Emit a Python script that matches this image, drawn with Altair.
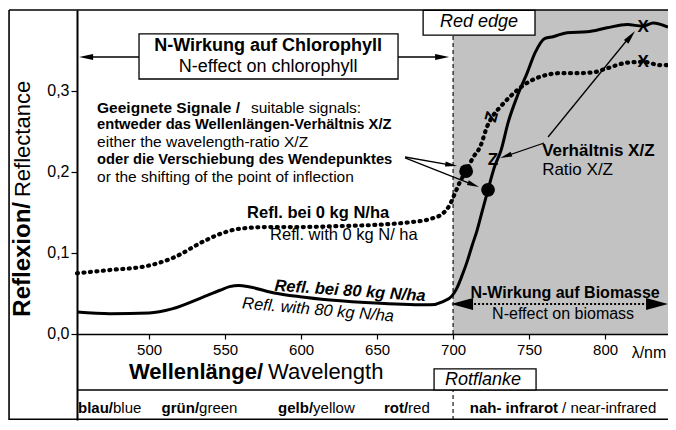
import altair as alt
import pandas as pd

FONT = "Liberation Sans"

# ---------------- values ----------------
wl_0kg = [452.6, 474.3, 498.7, 515.8, 535.5, 544.7, 559.9, 577.6, 599.3, 621.1, 652.0, 671.7,
          684.9, 693.4, 698.0, 701.3, 704.6, 708.6, 713.2, 717.8, 722.4, 725.7, 730.9, 737.5,
          744.1, 752.6, 761.8, 770.4, 781.6, 792.1, 801.3, 814.5, 825.0, 836.2, 841.4]
refl_0kg = [0.075, 0.079, 0.084, 0.094, 0.114, 0.122, 0.130, 0.132, 0.132, 0.133, 0.135, 0.138,
            0.142, 0.149, 0.160, 0.174, 0.188, 0.201, 0.218, 0.231, 0.256, 0.268, 0.280, 0.293,
            0.304, 0.314, 0.320, 0.322, 0.322, 0.323, 0.328, 0.335, 0.336, 0.332, 0.332]

wl_80kg = [452.6, 474.3, 500.0, 515.1, 533.6, 546.7, 553.0, 559.0, 566.4, 581.6, 599.3, 619.1,
           652.0, 684.9, 693.4, 699.3, 702.6, 705.9, 709.2, 712.5, 715.8, 719.1, 723.0, 727.0,
           731.6, 736.2, 742.1, 748.7, 753.9, 760.5, 765.8, 775.0, 788.2, 801.3, 814.5, 825.0,
           831.6, 841.4]
refl_80kg = [0.027, 0.025, 0.026, 0.031, 0.044, 0.054, 0.0585, 0.0600, 0.058, 0.051, 0.046, 0.042,
             0.038, 0.036, 0.040, 0.047, 0.057, 0.072, 0.089, 0.109, 0.128, 0.151, 0.178, 0.205,
             0.227, 0.261, 0.293, 0.322, 0.347, 0.365, 0.367, 0.372, 0.373, 0.378, 0.382, 0.380,
             0.384, 0.379]

inflection_wl = [708.6, 723.0]
inflection_refl = [0.201, 0.178]

x_ticks = [500, 550, 600, 650, 700, 750, 800]
y_ticks = [0.0, 0.1, 0.2, 0.3]

X_DOMAIN = [452.6, 841.4]
Y_DOMAIN = [-0.1062, 0.4]
RED_EDGE_START = 700

# ---------------- scales / axes ----------------
xs = alt.Scale(domain=X_DOMAIN, nice=False, zero=False)
ys = alt.Scale(domain=Y_DOMAIN, nice=False, zero=False)
x_axis = alt.Axis(values=x_ticks, offset=-86, title=None, grid=False, tickSize=5,
                  labelFontSize=15, labelPadding=3, domainWidth=1.5, tickWidth=1.2,
                  zindex=1, labelFont=FONT, labelColor="black", domainColor="black",
                  tickColor="black")
y_axis = alt.Axis(values=y_ticks, title=None, grid=False, tickSize=6, labelFontSize=16,
                  labelPadding=2, domainWidth=2, tickWidth=1.2, zindex=1, labelFont=FONT,
                  labelColor="black", domainColor="black", tickColor="black",
                  labelExpr="replace(format(datum.value, '.1f'), '.', ',')")


def X(f):
    return alt.X(f"{f}:Q", scale=xs, axis=x_axis)


def Y(f):
    return alt.Y(f"{f}:Q", scale=ys, axis=y_axis)


def text_layer(rows, size, weight="normal", style="normal", align="center",
               baseline="middle", angle=0):
    df = pd.DataFrame(rows, columns=["label", "x", "y"])
    kw = dict(font=FONT, fontSize=size, fontWeight=weight, fontStyle=style,
              align=align, baseline=baseline, color="black")
    if angle:
        kw["angle"] = angle
    return alt.Chart(df).mark_text(**kw).encode(x=X("x"), y=Y("y"), text="label:N")


def hrules(rows, width=1.5, dash=None):
    df = pd.DataFrame(rows, columns=["x", "x2", "y"])
    kw = dict(color="black", strokeWidth=width)
    if dash:
        kw["strokeDash"] = dash
    return alt.Chart(df).mark_rule(**kw).encode(x=X("x"), x2="x2:Q", y=Y("y"))


def vrules(rows, width=1.5, dash=None):
    df = pd.DataFrame(rows, columns=["x", "y", "y2"])
    kw = dict(color="black", strokeWidth=width)
    if dash:
        kw["strokeDash"] = dash
    return alt.Chart(df).mark_rule(**kw).encode(x=X("x"), y=Y("y"), y2="y2:Q")


def segs(rows, width=1.3, dash=None):
    df = pd.DataFrame(rows, columns=["x", "y", "x2", "y2"])
    kw = dict(color="black", strokeWidth=width)
    if dash:
        kw["strokeDash"] = dash
    return alt.Chart(df).mark_rule(**kw).encode(x=X("x"), y=Y("y"), x2="x2:Q", y2="y2:Q")


def heads(rows, shape):
    df = pd.DataFrame(rows, columns=["x", "y", "angle", "size"])
    return alt.Chart(df).mark_point(shape=shape, filled=True, color="black", opacity=1,
                                    strokeWidth=0).encode(
        x=X("x"), y=Y("y"),
        angle=alt.Angle("angle:Q", scale=None),
        size=alt.Size("size:Q", scale=None))


def boxes(rows, fill="white", width=1.3):
    df = pd.DataFrame(rows, columns=["x", "x2", "y", "y2"])
    return alt.Chart(df).mark_rect(fill=fill, stroke="black", strokeWidth=width).encode(
        x=X("x"), x2="x2:Q", y=Y("y"), y2="y2:Q")


layers = []

# shaded near-infrared region
shade_df = pd.DataFrame({"x": [RED_EDGE_START], "x2": [X_DOMAIN[1]], "y": [0.0], "y2": [Y_DOMAIN[1]]})
layers.append(alt.Chart(shade_df).mark_rect(color="#c2c2c2").encode(
    x=X("x"), x2="x2:Q", y=Y("y"), y2="y2:Q"))

# dashed red-edge boundary
layers.append(vrules([(RED_EDGE_START, 0.0, Y_DOMAIN[1]),
                      (RED_EDGE_START, Y_DOMAIN[0], -0.0691)], width=1.1, dash=[4, 3]))

# frame and separator lines
layers.append(hrules([(407.9, X_DOMAIN[1], Y_DOMAIN[1]),
                      (407.9, X_DOMAIN[1], Y_DOMAIN[0] + 0.001),
                      (X_DOMAIN[0], X_DOMAIN[1], -0.0691)], width=1.6))
layers.append(vrules([(407.9, Y_DOMAIN[0], Y_DOMAIN[1])], width=1.6))

# boxes
layers.append(boxes([(493.4, 663.8, 0.3148, 0.3704),
                     (680.3, 753.9, 0.369, 0.3995),
                     (687.5, 754.6, -0.0691, -0.0432)]))

# curves
df0 = pd.DataFrame({"wl": wl_0kg, "r": refl_0kg})
df80 = pd.DataFrame({"wl": wl_80kg, "r": refl_80kg})
layers.append(alt.Chart(df0).mark_line(color="black", strokeWidth=4.2, strokeDash=[1, 5.5],
                                       strokeCap="round", interpolate="monotone").encode(
    x=X("wl"), y=Y("r")))
layers.append(alt.Chart(df80).mark_line(color="black", strokeWidth=3,
                                        interpolate="monotone").encode(
    x=X("wl"), y=Y("r")))

# inflection points
dfd = pd.DataFrame({"wl": inflection_wl, "r": inflection_refl})
layers.append(alt.Chart(dfd).mark_circle(size=190, color="black", opacity=1).encode(
    x=X("wl"), y=Y("r")))

# arrow shafts
layers.append(segs([(493.4, 0.342, 462.5, 0.342),
                    (663.8, 0.342, 688.8, 0.342),
                    (668.4, 0.2185, 698.8, 0.2086),
                    (668.4, 0.2173, 713.4, 0.1840),
                    (762.5, 0.2432, 816.1, 0.3667),
                    (759.9, 0.2358, 734.7, 0.2196)], width=1.3))
layers.append(segs([(711.2, 0.037, 828.3, 0.037)], width=2, dash=[2, 2]))

# arrow heads
layers.append(heads([(458.6, 0.342, 180, 196),
                     (692.8, 0.342, 0, 196),
                     (698.8, 0.2086, 9.6, 144),
                     (713.4, 0.1842, 22, 144),
                     (816.8, 0.3674, 309.4, 196),
                     (734.7, 0.2196, 161.2, 144)], "M1,0L-1,-0.42L-1,0.42Z"))
layers.append(heads([(705.9, 0.037, 180, 484),
                     (834.2, 0.037, 0, 484)], "M1,0L-1,-0.55L-1,0.55Z"))

# ---------------- texts ----------------
layers.append(text_layer([("N-Wirkung auf Chlorophyll", 578.3, 0.3556)], 18, weight="bold"))
layers.append(text_layer([("N-effect on chlorophyll", 578.3, 0.3296)], 18))

layers.append(text_layer([("Geeignete Signale /", 465.8, 0.279)], 15.5, weight="bold", align="left"))
layers.append(text_layer([("suitable signals:", 567.0, 0.279)], 15.5, align="left"))
layers.append(text_layer([("entweder das Wellenlängen-Verhältnis X/Z", 465.8, 0.258),
                          ("oder die Verschiebung des Wendepunktes", 465.8, 0.215)],
                         14.7, weight="bold", align="left"))
layers.append(text_layer([("either the wavelength-ratio X/Z", 465.8, 0.237),
                          ("or the shifting of the point of inflection", 465.8, 0.194)],
                         15.5, align="left"))

layers.append(text_layer([("Refl. bei 0 kg N/ha", 564.5, 0.1494)], 16.5, weight="bold", align="left"))
layers.append(text_layer([("Refl. with 0 kg N/ ha", 579.6, 0.1222)], 16.5, align="left"))
layers.append(text_layer([("Refl. bei 80 kg N/ha", 632.2, 0.0531)], 16.5, weight="bold",
                         style="italic", angle=4))
layers.append(text_layer([("Refl. with 80 kg N/ha", 611.2, 0.0296)], 16.5, style="italic", angle=5))

layers.append(text_layer([("Verhältnis X/Z", 758.6, 0.2259)], 17, weight="bold", align="left"))
layers.append(text_layer([("Ratio X/Z", 758.6, 0.2025)], 17, align="left"))

layers.append(text_layer([("N-Wirkung auf Biomasse", 773.7, 0.0506)], 16, weight="bold"))
layers.append(text_layer([("N-effect on biomass", 772.4, 0.0247)], 16))

layers.append(text_layer([("X", 825.0, 0.379), ("X", 825.0, 0.336), ("Z", 726.3, 0.2148)],
                         17, weight="bold"))
layers.append(text_layer([("Z", 725.7, 0.268)], 17, weight="bold", angle=285))

layers.append(text_layer([("Red edge", 717.1, 0.385)], 18, style="italic"))
layers.append(text_layer([("Rotflanke", 719.7, -0.0568)], 18, style="italic"))
layers.append(text_layer([("λ/nm", 828.9, -0.0235)], 16))

layers.append(text_layer([("Wellenlänge/", 575.0, -0.0556)], 22, weight="bold", align="right",
                         baseline="alphabetic"))
layers.append(text_layer([("Wavelength", 578.3, -0.0556)], 22, align="left", baseline="alphabetic"))

layers.append(text_layer([("Reflexion/", 417.1, 0.1630)], 24, weight="bold", align="right", angle=270))
layers.append(text_layer([("Reflectance", 417.1, 0.1691)], 22, align="left", angle=270))

layers.append(text_layer([("blau/", 476.3, -0.0914), ("grün/", 532.9, -0.0914),
                          ("gelb/", 607.9, -0.0914), ("rot/", 670.4, -0.0914),
                          ("nah- infrarot", 769.1, -0.0914)], 15, weight="bold", align="right"))
layers.append(text_layer([("blue", 476.3, -0.0914), ("green", 532.9, -0.0914),
                          ("yellow", 607.9, -0.0914), ("red", 670.4, -0.0914),
                          ("/ near-infrared", 771.7, -0.0914)], 15, align="left"))

chart = alt.layer(*layers).properties(
    width=591, height=410,
    padding={"left": 69, "top": 2, "right": 0, "bottom": 2},
    autosize=alt.AutoSizeParams(type="none"),
    background="white",
).configure_view(strokeWidth=0)

chart.save("out.html", embed_options={"renderer": "svg", "actions": False})
